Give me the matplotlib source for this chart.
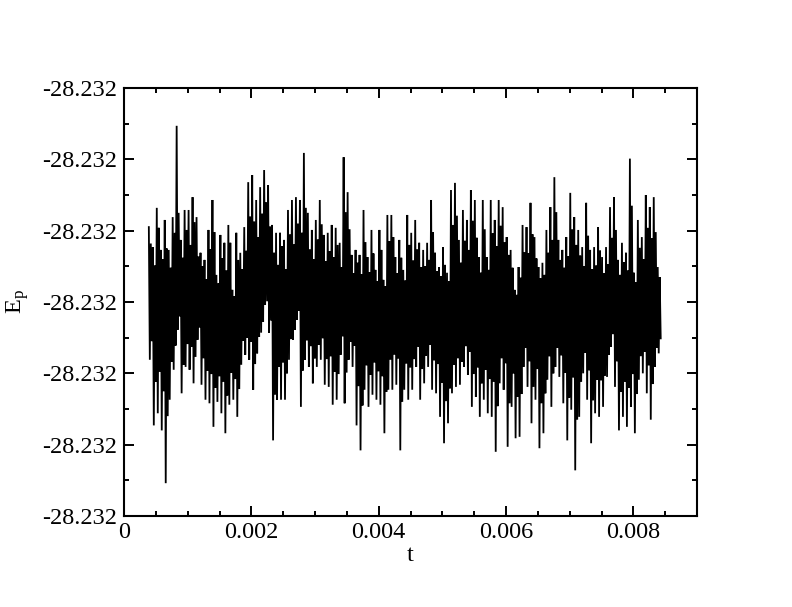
import numpy as np
import matplotlib
matplotlib.use("Agg")
import matplotlib.pyplot as plt
from matplotlib.ticker import MultipleLocator, FormatStrFormatter

# potential energy trace, deviations from the mean level in units of 1e-6,
# read off the plot per short time window: highest / lowest spike and
# the second highest / second lowest spike
ep_hi = [10.5, 7.7, 13.2, 7.3, 11.5, 7.3, 11.9, 24.7, 8.7, 12.9, 12.9, 14.7, 11.9,
         6.9, 5.9, 10.1, 14.3, 3.8, 9.4, 8.3, 10.8, 1.7, 9.7, 6.9, 10.5, 16.8,
         17.8, 14.3, 16.1, 18.5, 16.4, 10.8, 9.7, 9.7, 8.7, 12.9, 14.3, 14.7, 14.3,
         20.9, 12.5, 10.1, 11.5, 14.3, 9.4, 9.7, 10.8, 10.4, 8.3, 20.3, 15.4, 6.6,
         7.3, 6.6, 12.9, 6.3, 10.1, 4.5, 10.1, 3.1, 12.2, 12.2, 6.3, 8.7, 4.5,
         12.2, 9.7, 11.5, 8.3, 7.3, 8.3, 14.3, 6.9, 4.9, 7.7, 4.1, 15.7, 16.7,
         8.7, 12.9, 11.5, 15.7, 14.3, 6.3, 14.3, 6.3, 14.3, 11.5, 14.3, 13.3, 9.1,
         7.3, 1.7, 4.9, 10.8, 10.5, 13.9, 9.1, 4.9, 5.5, 10.1, 13.3, 17.5, 8.7,
         7.3, 9.1, 15.3, 11.9, 10.1, 7.7, 13.9, 7.3, 7.7, 10.5, 6.3, 7.7, 13.3,
         14.7, 5.9, 8.3, 6.9, 20.1, 4.1, 11.5, 9.1, 15.0, 13.3, 14.7, 4.9]
ep_lo = [-8.1, -17.3, -15.6, -18.0, -25.4, -13.7, -9.5, -3.9, -12.8, -9.1, -9.5,
         -11.4, -5.3, -11.6, -13.7, -14.2, -17.5, -14.0, -15.6, -18.4, -14.4,
         -13.7, -16.1, -8.8, -7.4, -8.1, -12.3, -7.2, -4.3, -0.4, -4.3, -19.4,
         -13.7, -13.7, -13.7, -8.1, -5.3, -2.5, -14.7, -8.1, -9.1, -11.4, -9.1,
         -8.1, -11.6, -11.9, -14.4, -13.7, -7.4, -14.2, -8.1, -9.1, -17.3, -20.8,
         -12.3, -14.7, -13.0, -13.7, -14.4, -18.4, -12.3, -12.3, -11.6, -20.8,
         -12.3, -13.7, -12.3, -9.1, -13.7, -11.4, -9.1, -12.3, -12.8, -16.1,
         -19.8, -17.0, -12.8, -11.9, -11.6, -9.1, -10.2, -14.7, -13.3, -16.1,
         -13.7, -15.6, -16.1, -21.0, -11.4, -12.3, -20.3, -14.7, -19.1, -18.9,
         -9.1, -11.9, -17.0, -13.7, -20.5, -18.4, -10.9, -14.7, -9.1, -10.5,
         -14.2, -19.4, -15.1, -23.6, -16.1, -10.0, -13.7, -19.8, -15.6, -16.1,
         -14.7, -10.5, -6.3, -11.9, -18.0, -16.1, -17.5, -14.7, -18.4, -10.9,
         -10.0, -12.8, -16.5, -9.1, -7.2]
ep_hi2 = [8.2, 5.1, 10.4, 6.0, 7.5, 4.8, 9.7, 12.5, 6.2, 10.1, 8.0, 11.2, 6.4,
          5.0, 3.2, 7.4, 9.8, 2.6, 6.1, 4.4, 8.3, 0.8, 5.9, 4.6, 7.2, 12.0, 11.3,
          9.1, 12.4, 14.0, 10.6, 6.9, 5.2, 7.8, 4.6, 9.5, 8.1, 11.0, 9.7, 13.2,
          7.4, 6.0, 8.8, 10.9, 5.7, 7.1, 6.3, 8.0, 4.9, 12.6, 10.2, 4.0, 5.5, 3.9,
          8.4, 4.2, 6.8, 2.9, 7.3, 2.2, 8.5, 9.1, 4.0, 6.2, 3.0, 8.0, 5.8, 7.4,
          4.9, 5.0, 5.9, 9.8, 4.3, 3.6, 5.2, 2.9, 10.8, 12.1, 5.5, 8.6, 7.3, 11.4,
          9.0, 4.1, 10.2, 4.5, 9.6, 7.8, 10.7, 8.4, 6.6, 4.8, 1.0, 3.4, 7.0, 6.8,
          9.5, 6.1, 3.3, 3.8, 6.9, 8.7, 12.6, 5.9, 4.8, 6.4, 10.2, 8.0, 6.5, 5.0,
          9.3, 4.6, 5.1, 7.2, 4.0, 5.3, 9.0, 10.1, 3.8, 5.6, 4.4, 13.5, 2.8, 7.6,
          6.0, 10.4, 8.9, 9.8, 3.5]
ep_lo2 = [-5.5, -11.2, -9.8, -12.5, -16.0, -8.4, -6.1, -2.0, -8.8, -5.9, -6.3,
          -7.7, -3.6, -7.9, -9.6, -10.1, -12.0, -10.4, -11.2, -13.1, -9.9, -10.8,
          -12.2, -5.4, -5.0, -5.6, -8.7, -4.9, -2.8, 0.1, -2.6, -13.0, -9.1, -8.5,
          -10.0, -5.2, -3.9, -1.2, -9.6, -5.4, -6.2, -7.9, -6.0, -5.1, -8.0, -7.6,
          -9.8, -10.1, -4.8, -9.9, -5.6, -6.1, -11.8, -14.5, -8.9, -10.2, -8.5,
          -9.7, -10.4, -12.6, -8.1, -7.4, -7.9, -14.0, -8.6, -9.2, -8.0, -6.3,
          -9.4, -7.5, -6.0, -8.2, -8.7, -11.3, -13.9, -12.1, -8.8, -7.9, -8.4,
          -6.2, -7.0, -10.1, -9.2, -11.4, -9.5, -10.8, -11.2, -14.6, -7.9, -8.6,
          -14.2, -10.0, -13.3, -12.9, -6.4, -8.3, -11.9, -9.4, -14.2, -12.8, -7.6,
          -10.0, -6.4, -7.5, -9.9, -13.4, -10.6, -16.5, -11.2, -7.1, -9.6, -13.8,
          -10.9, -11.0, -10.3, -7.4, -4.5, -8.3, -12.6, -11.2, -12.0, -10.1,
          -12.9, -7.6, -7.0, -8.9, -11.5, -6.4, -5.1]
ep_mean = -28.23203
t_start, t_end = 0.00039, 0.00843

dev = np.column_stack([ep_hi, ep_lo, ep_hi2, ep_lo2]).ravel()
ep = ep_mean + dev * 1e-6
t = np.linspace(t_start, t_end, len(ep))

plt.rcParams['font.family'] = ['Liberation Serif', 'DejaVu Serif']
plt.rcParams['mathtext.fontset'] = 'custom'
plt.rcParams['mathtext.rm'] = 'Liberation Serif'
plt.rcParams['mathtext.it'] = 'Liberation Serif'

fig = plt.figure(figsize=(7.92, 6.07), dpi=100)
ax = fig.add_axes([124 / 792, 1 - 516 / 607, 573 / 792, 428 / 607])

ax.plot(t, ep, color='black', lw=1.3, solid_joinstyle='miter')

ax.set_xlim(0, 0.009)
ax.set_ylim(-28.23206, -28.23200)
ax.xaxis.set_major_locator(MultipleLocator(0.002))
ax.xaxis.set_minor_locator(MultipleLocator(0.0005))
ax.yaxis.set_major_locator(MultipleLocator(1e-5))
ax.yaxis.set_minor_locator(MultipleLocator(5e-6))
ax.xaxis.set_major_formatter(FormatStrFormatter('%g'))
ax.yaxis.set_major_formatter(FormatStrFormatter('%.3f'))

ax.tick_params(which='both', direction='in', top=True, right=True,
               width=1.4, labelsize=17.5)
ax.tick_params(which='major', length=7.5)
ax.tick_params(which='minor', length=3.8)
ax.tick_params(axis='y', pad=5)
ax.tick_params(axis='x', pad=4)
for s in ax.spines.values():
    s.set_linewidth(1.5)

ax.set_xlabel('t', fontsize=17.5, labelpad=2)
ax.set_ylabel(r'E$_\mathrm{p}$', fontsize=17.5)
ax.yaxis.set_label_coords(-0.162, 0.5)

fig.savefig('out.png', dpi=100)
